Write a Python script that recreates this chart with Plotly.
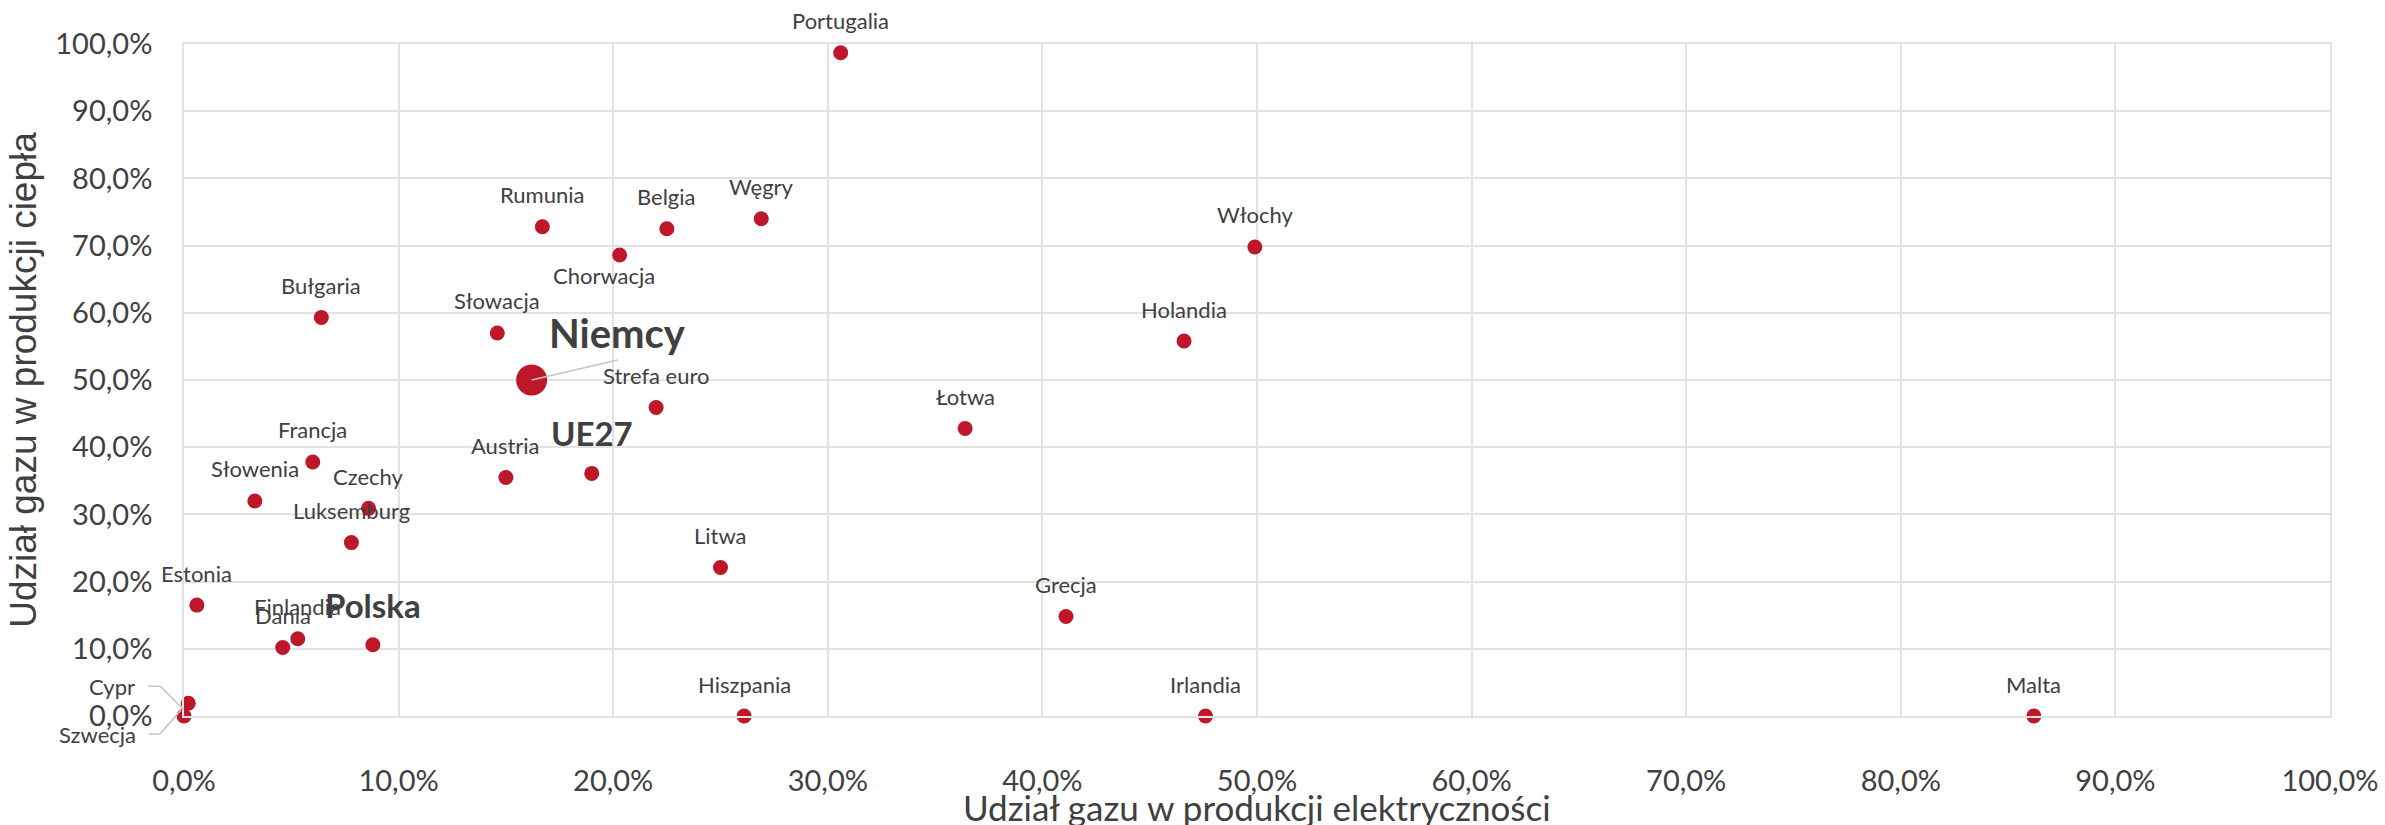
import plotly.graph_objects as go

# udzial gazu (%) - odczyt z wykresu
kraje = ["Portugalia", "Włochy", "Holandia", "Węgry", "Belgia", "Rumunia", "Chorwacja",
         "Bułgaria", "Słowacja", "Niemcy", "Strefa euro", "Łotwa", "Francja", "Słowenia",
         "Czechy", "Luksemburg", "Austria", "UE27", "Litwa", "Estonia", "Finlandia", "Dania",
         "Polska", "Grecja", "Cypr", "Szwecja", "Hiszpania", "Irlandia", "Malta"]
elektrycznosc = [30.6, 49.9, 46.6, 26.9, 22.5, 16.7, 20.3,
                 6.4, 14.6, 16.2, 22.0, 36.4, 6.0, 3.3,
                 8.6, 7.8, 15.0, 19.0, 25.0, 0.6, 5.3, 4.6,
                 8.8, 41.1, 0.2, 0.0, 26.1, 47.6, 86.2]
cieplo = [98.7, 69.8, 55.8, 74.0, 72.5, 72.8, 68.6,
          59.3, 57.0, 50.0, 45.9, 42.8, 37.8, 32.0,
          30.9, 25.8, 35.5, 36.1, 22.1, 16.5, 11.5, 10.2,
          10.6, 14.8, 1.9, 0.0, 0.0, 0.0, 0.0]

CZERWONY = "#BE1729"
TEKST = "#404040"
SIATKA = "#E2E2E2"
FONT = "Lato, Liberation Sans, sans-serif"

# etykiety: przesuniecie (px), wyrownanie, rozmiar, pogrubienie
domyslne = dict(dx=0, dy=32, anchor="center", size=22, bold=False)
wyjatki = {
    "Chorwacja": dict(dx=-16, dy=-20),
    "Niemcy": dict(dx=86, dy=47, size=40, bold=True),
    "UE27": dict(dy=40, size=33, bold=True),
    "Polska": dict(dy=40, size=33, bold=True),
    "Cypr": dict(dx=-51, dy=17, anchor="right"),
    "Szwecja": dict(dx=-46, dy=-18, anchor="right"),
}

x = [v / 100 for v in elektrycznosc]
y = [v / 100 for v in cieplo]
rozmiary = [31 if k == "Niemcy" else 15 for k in kraje]

fig = go.Figure()
fig.add_trace(go.Scatter(
    x=x, y=y, mode="markers", text=kraje,
    marker=dict(color=CZERWONY, size=rozmiary, opacity=1, line=dict(width=0)),
    cliponaxis=False, hoverinfo="text", showlegend=False,
))

for k, xv, yv in zip(kraje, x, y):
    opt = dict(domyslne, **wyjatki.get(k, {}))
    txt = f"<b>{k}</b>" if opt["bold"] else k
    fig.add_annotation(
        x=xv, y=yv, text=txt, showarrow=False,
        xshift=opt["dx"], yshift=opt["dy"],
        xanchor=opt["anchor"], yanchor="middle",
        font=dict(family=FONT, size=opt["size"], color=TEKST),
    )

# linie odniesienia (w pikselach wzgledem punktu); zakres osi 0-1 = obszar wykresu,
# wiec wartosci mozna podac w ukladzie "paper" (bez przycinania do obszaru)
linie = {
    "Niemcy": "M 0,0 L 86,20",
    "Cypr": "M -5,-6 L -28,17 L -40,17",
    "Szwecja": "M -3,6 L -24,-18 L -35,-18",
}
for k, sciezka in linie.items():
    i = kraje.index(k)
    fig.add_shape(type="path", xref="paper", yref="paper", xsizemode="pixel", ysizemode="pixel",
                  xanchor=x[i], yanchor=y[i], path=sciezka,
                  line=dict(color="#C4C4C4", width=1.6), layer="above")

os_wsp = dict(
    range=[0, 1], dtick=0.1, tickformat=".1%", automargin=False,
    showgrid=True, gridcolor=SIATKA, gridwidth=1.6,
    showline=True, linecolor=SIATKA, linewidth=1.6, mirror=True,
    zeroline=False, ticks="",
    tickfont=dict(family=FONT, size=29, color=TEKST),
)

fig.update_xaxes(**os_wsp, ticklabelstandoff=38)
fig.update_yaxes(**os_wsp, ticklabelstandoff=24,
                 title=dict(text="Udział gazu w produkcji ciepła",
                            font=dict(family="Liberation Sans, Arial, sans-serif", size=37, color=TEKST),
                            standoff=7))
fig.update_yaxes(zeroline=True, zerolinecolor="#D4D4D4", zerolinewidth=2.2)

# tytul osi X jako adnotacja - w oryginale lezy nisko, przy samej krawedzi
fig.add_annotation(text="Udział gazu w produkcji elektryczności", showarrow=False,
                   xref="paper", yref="paper", x=0.5, y=0, yshift=-91,
                   xanchor="center", yanchor="middle",
                   font=dict(family=FONT, size=35, color=TEKST))

fig.update_layout(
    width=2385, height=825,
    margin=dict(l=184, r=55, t=44, b=109),
    plot_bgcolor="white", paper_bgcolor="white",
    separators=", ",
    showlegend=False,
)

# bez domyslnego marginesu strony (8 px), zeby wykres wypelnial okno
fig.write_html("out.html", config={"displayModeBar": False},
               post_script="document.body.style.margin='0';")
